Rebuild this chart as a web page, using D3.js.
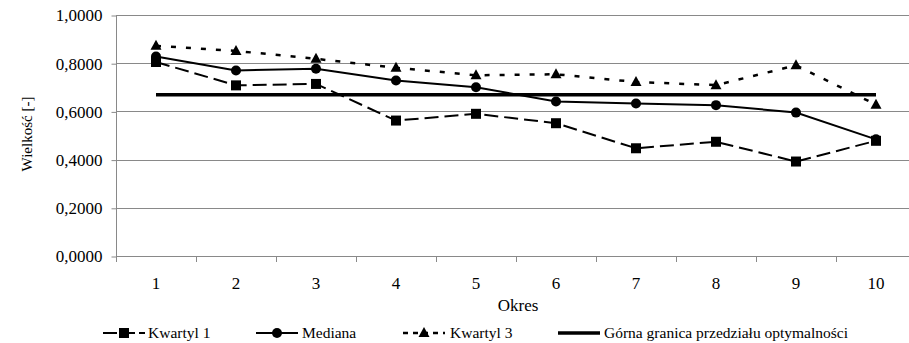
<!DOCTYPE html>
<html>
<head>
<meta charset="utf-8">
<script src="https://cdn.jsdelivr.net/npm/d3@7"></script>
<style>
  body { margin: 0; background: #fff; }
  svg { display: block; }
</style>
</head>
<body>
<svg id="chart" width="909" height="343"></svg>
<script>
const periods = ["1", "2", "3", "4", "5", "6", "7", "8", "9", "10"];
const kwartyl1 = [0.805, 0.708, 0.714, 0.562, 0.590, 0.551, 0.447, 0.474, 0.392, 0.478];
const mediana = [0.828, 0.770, 0.777, 0.728, 0.700, 0.641, 0.633, 0.626, 0.595, 0.484];
const kwartyl3 = [0.872, 0.851, 0.818, 0.781, 0.750, 0.754, 0.722, 0.709, 0.791, 0.628];
const gornaGranica = [0.669, 0.669, 0.669, 0.669, 0.669, 0.669, 0.669, 0.669, 0.669, 0.669];
const yTicks = [0, 0.2, 0.4, 0.6, 0.8, 1.0];

// serif face used for every label
const serif = "Liberation Serif, DejaVu Serif, serif";

const series = [
  { name: "Kwartyl 1", values: kwartyl1, dash: "14,6", width: 2, marker: "square" },
  { name: "Mediana", values: mediana, dash: null, width: 2, marker: "circle" },
  { name: "Kwartyl 3", values: kwartyl3, dash: "5,10", width: 2.5, marker: "triangle" },
  { name: "Górna granica przedziału optymalności", values: gornaGranica, dash: null, width: 3.5, marker: null }
];

const svg = d3.select("#chart");
const x = d3.scaleBand().domain(periods).range([116, 916]).paddingInner(0).paddingOuter(0);
const y = d3.scaleLinear().domain([0, 1]).range([256, 15]);
const gridColor = "#898989";

// gridlines
svg.append("g")
  .selectAll("line")
  .data(yTicks.filter(d => d > 0))
  .join("line")
  .attr("x1", 116)
  .attr("x2", 916)
  .attr("y1", d => Math.round(y(d)) + 0.5)
  .attr("y2", d => Math.round(y(d)) + 0.5)
  .attr("stroke", gridColor)
  .attr("stroke-width", 1);

// y axis
const yAxis = svg.append("g").attr("transform", "translate(116.5,0.5)")
  .call(d3.axisLeft(y).tickValues(yTicks).tickSize(5).tickPadding(9)
    .tickFormat(d => d3.format(".4f")(d).replace(".", ",")));
yAxis.selectAll("path, line").attr("stroke", gridColor);
yAxis.select(".domain").attr("d", `M-0,${y(1)}V${y(0)}`);
yAxis.selectAll("text")
  .attr("fill", "#000")
  .style("font-family", serif)
  .style("font-size", "17px");

// x axis line and ticks at band edges
const xg = svg.append("g");
xg.append("line")
  .attr("x1", 116).attr("x2", 916)
  .attr("y1", Math.round(y(0)) + 0.5).attr("y2", Math.round(y(0)) + 0.5)
  .attr("stroke", gridColor);
xg.selectAll("line.tick")
  .data(periods)
  .join("line")
  .attr("class", "tick")
  .attr("x1", d => Math.round(x(d)) + 0.5)
  .attr("x2", d => Math.round(x(d)) + 0.5)
  .attr("y1", Math.round(y(0)))
  .attr("y2", Math.round(y(0)) + 6)
  .attr("stroke", gridColor);
xg.selectAll("text")
  .data(periods)
  .join("text")
  .attr("x", d => x(d) + x.bandwidth() / 2)
  .attr("y", 289)
  .attr("text-anchor", "middle")
  .style("font-family", serif)
  .style("font-size", "17px")
  .text(d => d);

// axis titles
svg.append("text")
  .attr("x", 518)
  .attr("y", 311)
  .attr("text-anchor", "middle")
  .style("font-family", serif)
  .style("font-size", "17px")
  .text("Okres");

svg.append("text")
  .attr("transform", "translate(32,134) rotate(-90)")
  .attr("text-anchor", "middle")
  .style("font-family", serif)
  .style("font-size", "15px")
  .text("Wielkość [-]");

const cx = (d, i) => x(periods[i]) + x.bandwidth() / 2;
const line = d3.line().x((d, i) => cx(d, i)).y(d => y(d));

function drawMarker(sel, type, px, py) {
  if (type === "square") {
    sel.append("rect").attr("x", px - 5).attr("y", py - 5).attr("width", 10).attr("height", 10).attr("fill", "#000");
  } else if (type === "circle") {
    sel.append("circle").attr("cx", px).attr("cy", py).attr("r", 5).attr("fill", "#000");
  } else if (type === "triangle") {
    sel.append("path")
      .attr("d", `M${px},${py - 6}L${px + 5.5},${py + 4}L${px - 5.5},${py + 4}Z`)
      .attr("fill", "#000");
  }
}

// draw bound line first, then others on top
const order = [3, 2, 1, 0];
order.forEach(k => {
  const s = series[k];
  const g = svg.append("g");
  g.append("path")
    .datum(s.values)
    .attr("d", line)
    .attr("fill", "none")
    .attr("stroke", "#000")
    .attr("stroke-width", s.width)
    .attr("stroke-dasharray", s.dash);
  if (s.marker) {
    s.values.forEach((v, i) => drawMarker(g, s.marker, cx(v, i), y(v)));
  }
});

// legend
const legendItems = [
  { s: series[0], x0: 103, tx: 148 },
  { s: series[1], x0: 256, tx: 302 },
  { s: series[2], x0: 403, tx: 450 },
  { s: series[3], x0: 558, tx: 604 }
];
const ly = 333;
const lg = svg.append("g");
legendItems.forEach(it => {
  lg.append("line")
    .attr("x1", it.x0).attr("x2", it.x0 + 42)
    .attr("y1", ly).attr("y2", ly)
    .attr("stroke", "#000")
    .attr("stroke-width", it.s.width)
    .attr("stroke-dasharray", it.s.marker === "square" ? "14,4" : it.s.marker === "triangle" ? "5,5" : null);
  if (it.s.marker) drawMarker(lg, it.s.marker, it.x0 + 21, ly);
  lg.append("text")
    .attr("x", it.tx)
    .attr("y", 338)
    .style("font-family", serif)
    .style("font-size", "15.5px")
    .text(it.s.name);
});
</script>
</body>
</html>
